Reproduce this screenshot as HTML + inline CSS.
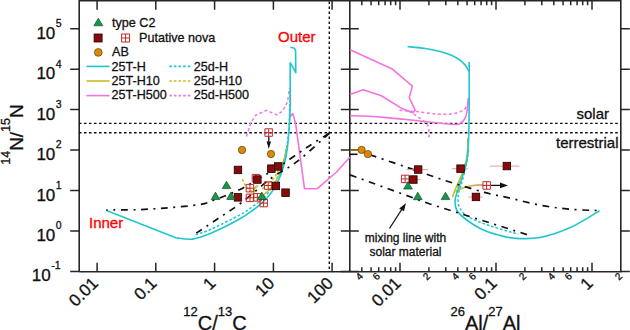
<!DOCTYPE html>
<html><head><meta charset="utf-8"><style>html,body{margin:0;padding:0;background:#fff;width:630px;height:330px;overflow:hidden}svg{display:block}text{font-family:"Liberation Sans",sans-serif;stroke:#111;stroke-width:0.3px}text.r{stroke:#f00}</style></head>
<body><svg width="630" height="330" viewBox="0 0 630 330" fill="#111">
<path d="M79.2 271.7V0.7H620.8V271.7H79.2M349.8 0.7V271.7" fill="none" stroke="#262626" stroke-width="1.6"/>
<path d="M70.2 271.4H79.2M340.8 271.4H358.8M620.8 271.4H629.8M70.2 231.0H79.2M340.8 231.0H358.8M620.8 231.0H629.8M70.2 190.6H79.2M340.8 190.6H358.8M620.8 190.6H629.8M70.2 150.1H79.2M340.8 150.1H358.8M620.8 150.1H629.8M70.2 109.6H79.2M340.8 109.6H358.8M620.8 109.6H629.8M70.2 69.2H79.2M340.8 69.2H358.8M620.8 69.2H629.8M70.2 28.8H79.2M340.8 28.8H358.8M620.8 28.8H629.8M97.1 271.7v-9M97.1 0.7v9M155.8 271.7v-9M155.8 0.7v9M214.6 271.7v-9M214.6 0.7v9M273.4 271.7v-9M273.4 0.7v9M332.1 271.7v-9M332.1 0.7v9M361.8 271.7v-4.5M361.8 0.7v4.5M371.1 271.7v-4.5M371.1 0.7v4.5M378.7 271.7v-4.5M378.7 0.7v4.5M385.1 271.7v-4.5M385.1 0.7v4.5M390.7 271.7v-4.5M390.7 0.7v4.5M395.6 271.7v-4.5M395.6 0.7v4.5M400.0 271.7v-9M400.0 0.7v9M428.9 271.7v-4.5M428.9 0.7v4.5M445.8 271.7v-4.5M445.8 0.7v4.5M457.8 271.7v-4.5M457.8 0.7v4.5M467.1 271.7v-4.5M467.1 0.7v4.5M474.7 271.7v-4.5M474.7 0.7v4.5M481.1 271.7v-4.5M481.1 0.7v4.5M486.7 271.7v-4.5M486.7 0.7v4.5M491.6 271.7v-4.5M491.6 0.7v4.5M496.0 271.7v-9M496.0 0.7v9M524.9 271.7v-4.5M524.9 0.7v4.5M541.8 271.7v-4.5M541.8 0.7v4.5M553.8 271.7v-4.5M553.8 0.7v4.5M563.1 271.7v-4.5M563.1 0.7v4.5M570.7 271.7v-4.5M570.7 0.7v4.5M577.1 271.7v-4.5M577.1 0.7v4.5M582.7 271.7v-4.5M582.7 0.7v4.5M587.6 271.7v-4.5M587.6 0.7v4.5M592.0 271.7v-9M592.0 0.7v9" fill="none" stroke="#262626" stroke-width="1.5"/>
<text x="50.699999999999996" y="280.8" font-size="17" text-anchor="end" font-family="Liberation Sans, sans-serif">10</text>
<text x="51.199999999999996" y="268.9" font-size="10.5" font-family="Liberation Sans, sans-serif">-1</text>
<text x="55.3" y="241.2" font-size="17" text-anchor="end" font-family="Liberation Sans, sans-serif">10</text>
<text x="55.8" y="229.3" font-size="10.5" font-family="Liberation Sans, sans-serif">0</text>
<text x="55.3" y="200.8" font-size="17" text-anchor="end" font-family="Liberation Sans, sans-serif">10</text>
<text x="55.8" y="188.9" font-size="10.5" font-family="Liberation Sans, sans-serif">1</text>
<text x="55.3" y="160.3" font-size="17" text-anchor="end" font-family="Liberation Sans, sans-serif">10</text>
<text x="55.8" y="148.4" font-size="10.5" font-family="Liberation Sans, sans-serif">2</text>
<text x="55.3" y="119.8" font-size="17" text-anchor="end" font-family="Liberation Sans, sans-serif">10</text>
<text x="55.8" y="107.9" font-size="10.5" font-family="Liberation Sans, sans-serif">3</text>
<text x="55.3" y="79.4" font-size="17" text-anchor="end" font-family="Liberation Sans, sans-serif">10</text>
<text x="55.8" y="67.5" font-size="10.5" font-family="Liberation Sans, sans-serif">4</text>
<text x="55.3" y="39.0" font-size="17" text-anchor="end" font-family="Liberation Sans, sans-serif">10</text>
<text x="55.8" y="27.1" font-size="10.5" font-family="Liberation Sans, sans-serif">5</text>
<text transform="translate(99.1,284.2) rotate(-45)" font-size="17" text-anchor="end" font-family="Liberation Sans, sans-serif">0.01</text>
<text transform="translate(157.8,284.2) rotate(-45)" font-size="17" text-anchor="end" font-family="Liberation Sans, sans-serif">0.1</text>
<text transform="translate(216.6,284.2) rotate(-45)" font-size="17" text-anchor="end" font-family="Liberation Sans, sans-serif">1</text>
<text transform="translate(275.4,284.2) rotate(-45)" font-size="17" text-anchor="end" font-family="Liberation Sans, sans-serif">10</text>
<text transform="translate(334.1,284.2) rotate(-45)" font-size="17" text-anchor="end" font-family="Liberation Sans, sans-serif">100</text>
<text transform="translate(402.0,284.2) rotate(-45)" font-size="17" text-anchor="end" font-family="Liberation Sans, sans-serif">0.01</text>
<text transform="translate(498.0,284.2) rotate(-45)" font-size="17" text-anchor="end" font-family="Liberation Sans, sans-serif">0.1</text>
<text transform="translate(594.0,284.2) rotate(-45)" font-size="17" text-anchor="end" font-family="Liberation Sans, sans-serif">1</text>
<text transform="translate(363.8,276.7) rotate(-45)" font-size="10" text-anchor="end" font-family="Liberation Sans, sans-serif">4</text>
<text transform="translate(380.7,276.7) rotate(-45)" font-size="10" text-anchor="end" font-family="Liberation Sans, sans-serif">6</text>
<text transform="translate(430.9,276.7) rotate(-45)" font-size="10" text-anchor="end" font-family="Liberation Sans, sans-serif">2</text>
<text transform="translate(459.8,276.7) rotate(-45)" font-size="10" text-anchor="end" font-family="Liberation Sans, sans-serif">4</text>
<text transform="translate(476.7,276.7) rotate(-45)" font-size="10" text-anchor="end" font-family="Liberation Sans, sans-serif">6</text>
<text transform="translate(526.9,276.7) rotate(-45)" font-size="10" text-anchor="end" font-family="Liberation Sans, sans-serif">2</text>
<text transform="translate(555.8,276.7) rotate(-45)" font-size="10" text-anchor="end" font-family="Liberation Sans, sans-serif">4</text>
<text transform="translate(572.7,276.7) rotate(-45)" font-size="10" text-anchor="end" font-family="Liberation Sans, sans-serif">6</text>
<text transform="translate(622.9,276.7) rotate(-45)" font-size="10" text-anchor="end" font-family="Liberation Sans, sans-serif">2</text>
<text x="215" y="330.2" font-size="20" text-anchor="middle" font-family="Liberation Sans, sans-serif"><tspan font-size="13" dy="-13.9">12</tspan><tspan dy="13.9">C/</tspan><tspan font-size="13" dy="-13.9">13</tspan><tspan dy="13.9">C</tspan></text>
<text x="485.5" y="330.2" font-size="20" text-anchor="middle" font-family="Liberation Sans, sans-serif"><tspan font-size="13" dy="-14">26</tspan><tspan dy="14">Al/</tspan><tspan font-size="13" dy="-14">27</tspan><tspan dy="14">Al</tspan></text>
<text transform="translate(23.3,134.5) rotate(-90)" font-size="19" text-anchor="middle" font-family="Liberation Sans, sans-serif"><tspan font-size="12.5" dy="-13">14</tspan><tspan dy="13">N/</tspan><tspan font-size="12.5" dy="-13">15</tspan><tspan dy="13">N</tspan></text>
<path d="M79.2 123.4H620.8M79.2 132.8H620.8" stroke="#111" stroke-width="1.4" stroke-dasharray="2.6 2.412" stroke-dashoffset="0.31" fill="none"/>
<path d="M329.3 0.7V271.7" stroke="#111" stroke-width="1.4" stroke-dasharray="2.6 2.4" stroke-dashoffset="4.2" fill="none"/>
<text x="609" y="119" font-size="15" text-anchor="end" font-family="Liberation Sans, sans-serif">solar</text>
<text x="618.5" y="147.5" font-size="15" text-anchor="end" font-family="Liberation Sans, sans-serif">terrestrial</text>
<text class="r" x="278" y="42" font-size="15" fill="#ff0000" font-family="Liberation Sans, sans-serif">Outer</text>
<text class="r" x="89" y="228.3" font-size="15" fill="#ff0000" font-family="Liberation Sans, sans-serif">Inner</text>
<text x="405.5" y="242" font-size="12" text-anchor="middle" font-family="Liberation Sans, sans-serif">mixing line with</text>
<text x="405.5" y="256" font-size="12" text-anchor="middle" font-family="Liberation Sans, sans-serif">solar material</text>
<path d="M98.3 18.2L102.8 25.8H93.8Z" fill="#15984a" stroke="#0a3a1a" stroke-width="0.6"/>
<text x="112" y="26.7" font-size="12.6" font-family="Liberation Sans, sans-serif">type C2</text>
<rect x="94.1" y="34.0" width="8" height="8" fill="#8a0a0a" stroke="#1a0000" stroke-width="0.8"/>
<path d="M121.6 34.0h8v8h-8zM125.6 34.0v8M121.6 38.0h8" fill="none" stroke="#c0282a" stroke-width="1"/>
<text x="139" y="41.7" font-size="12.6" font-family="Liberation Sans, sans-serif">Putative nova</text>
<circle cx="98.3" cy="52.4" r="3.9" fill="#d98a0c" stroke="#503000" stroke-width="0.6"/>
<text x="112" y="56.2" font-size="12.6" font-family="Liberation Sans, sans-serif">AB</text>
<path d="M86.4 66.4H109.5" stroke="#1fc6d0" stroke-width="1.6"/>
<path d="M169.3 66.4H191.7" stroke="#1fc6d0" stroke-width="1.6" stroke-dasharray="2.6 2"/>
<text x="111.5" y="70.6" font-size="12.6" font-family="Liberation Sans, sans-serif">25T-H</text>
<text x="193.8" y="70.6" font-size="12.6" font-family="Liberation Sans, sans-serif">25d-H</text>
<path d="M86.4 81.0H109.5" stroke="#c8bf1e" stroke-width="1.6"/>
<path d="M169.3 81.0H191.7" stroke="#c8bf1e" stroke-width="1.6" stroke-dasharray="2.6 2"/>
<text x="111.5" y="84.8" font-size="12.6" font-family="Liberation Sans, sans-serif">25T-H10</text>
<text x="193.8" y="84.8" font-size="12.6" font-family="Liberation Sans, sans-serif">25d-H10</text>
<path d="M86.4 95.6H109.5" stroke="#f373e3" stroke-width="1.6"/>
<path d="M169.3 95.6H191.7" stroke="#f373e3" stroke-width="1.6" stroke-dasharray="2.6 2"/>
<text x="111.5" y="98.9" font-size="12.6" font-family="Liberation Sans, sans-serif">25T-H500</text>
<text x="193.8" y="98.9" font-size="12.6" font-family="Liberation Sans, sans-serif">25d-H500</text>
<path d="M289.0 118.2L292.7 113.6L295.5 122.7L304.5 188.7L317.3 188.7L336.5 172.0L349.8 157.3" fill="none" stroke="#f373e3" stroke-width="1.6" stroke-linejoin="round"/>
<path d="M246.4 136.4L250.9 122.5L256.0 115.0L266.4 110.4L277.3 115.0L282.7 111.0L287.5 102.0L289.5 88.0" fill="none" stroke="#f373e3" stroke-width="1.5" stroke-dasharray="3 2.5" stroke-linejoin="round"/>
<path d="M195.6 234.7C198.2 233.8 204.0 232.4 211.4 229.1C218.8 225.8 233.2 218.5 240.0 214.8C246.8 211.1 248.7 209.3 252.0 207.0C255.3 204.7 257.5 203.2 260.0 201.0C262.5 198.8 264.8 196.6 267.0 194.0C269.2 191.4 271.2 188.5 273.0 185.5C274.8 182.5 276.4 179.4 278.0 176.0C279.6 172.6 281.2 169.0 282.5 165.0C283.8 161.0 284.9 156.2 285.8 152.0C286.7 147.8 287.2 145.3 287.8 140.0C288.4 134.7 288.9 128.3 289.3 120.0C289.7 111.7 289.9 95.0 290.0 90.0" fill="none" stroke="#1fc6d0" stroke-width="1.5" stroke-dasharray="2.6 2" stroke-linejoin="round"/>
<path d="M253.2 201.0C253.4 199.0 253.7 191.6 254.5 189.0C255.3 186.4 257.4 186.1 258.0 185.5" fill="none" stroke="#c8bf1e" stroke-width="1.5" stroke-linejoin="round"/>
<path d="M262.5 196.0C263.4 195.2 266.1 193.0 268.0 191.0C269.9 189.0 272.1 186.7 274.0 184.0C275.9 181.3 277.8 177.8 279.2 175.0C280.6 172.2 281.5 169.8 282.5 167.0C283.5 164.2 284.3 160.8 285.0 158.0C285.7 155.2 286.2 151.3 286.5 150.0" fill="none" stroke="#c8bf1e" stroke-width="1.5" stroke-linejoin="round"/>
<path d="M242.3 179.1C242.8 180.0 243.7 182.7 245.0 184.5C246.3 186.3 248.6 188.8 250.0 190.0C251.4 191.2 252.7 191.7 253.2 192.0" fill="none" stroke="#c8bf1e" stroke-width="1.5" stroke-dasharray="2.6 2" stroke-linejoin="round"/>
<path d="M262.0 189.0C262.9 188.2 265.7 186.3 267.7 184.5C269.7 182.7 272.2 180.4 274.0 178.0C275.8 175.6 276.9 173.2 278.6 170.0C280.3 166.8 282.9 162.4 284.1 159.1C285.3 155.8 285.5 152.3 285.9 150.0C286.3 147.7 286.4 145.8 286.5 145.0" fill="none" stroke="#c8bf1e" stroke-width="1.5" stroke-dasharray="2.6 2" stroke-linejoin="round"/>
<path d="M106.5 210.5L176.5 237.9" fill="none" stroke="#1fc6d0" stroke-width="1.6" stroke-linejoin="round"/>
<path d="M176.5 237.9C179.2 238.1 186.6 239.9 192.4 239.1C198.2 238.3 203.5 236.5 211.4 233.1C219.3 229.7 233.0 222.7 240.0 218.8C247.0 215.0 249.6 212.6 253.2 210.0C256.8 207.4 259.1 205.4 261.7 203.1C264.2 200.8 266.3 198.9 268.5 196.3C270.7 193.7 272.9 190.5 274.7 187.4C276.5 184.3 278.1 181.2 279.5 178.0C280.9 174.8 281.9 171.8 283.0 168.0C284.1 164.2 285.4 159.7 286.3 155.0C287.2 150.3 287.6 146.9 288.2 140.0C288.8 133.1 289.7 121.9 290.0 113.6C290.3 105.3 290.2 93.9 290.2 90.0" fill="none" stroke="#1fc6d0" stroke-width="1.6" stroke-linejoin="round"/>
<path d="M290.2 90.0L290.2 62.7L295.8 72.7L295.6 51.0L294.5 48.2L290.4 47.3" fill="none" stroke="#1fc6d0" stroke-width="1.6" stroke-linejoin="round"/>
<path d="M106.2 210.0C111.8 209.9 129.4 210.0 140.0 209.6C150.6 209.2 160.0 208.4 170.0 207.6C180.0 206.8 192.5 205.8 200.0 204.5C207.5 203.2 208.3 202.2 215.0 199.7C221.7 197.2 232.2 193.3 240.0 189.5C247.8 185.7 254.9 181.0 262.0 176.8C269.1 172.6 275.3 168.9 282.7 164.1C290.1 159.2 298.5 152.9 306.4 147.7C314.3 142.5 326.1 135.2 330.0 132.7" fill="none" stroke="#111" stroke-width="1.7" stroke-dasharray="6.8 5.6 2 5.6" stroke-dashoffset="5.2" stroke-linejoin="round"/>
<path d="M196.3 233.1C199.6 230.9 208.4 225.1 215.9 220.0C223.4 214.9 232.1 209.8 241.4 202.7C250.7 195.6 262.5 184.6 271.8 177.7C281.1 170.8 287.6 168.9 297.3 161.4C307.0 153.9 324.6 137.5 330.0 132.7" fill="none" stroke="#111" stroke-width="1.7" stroke-dasharray="6.8 5.6 2 5.6" stroke-dashoffset="0" stroke-linejoin="round"/>
<path d="M350.0 49.7L392.3 69.1L412.4 86.1L409.2 97.7L415.3 110.3L412.9 112.7" fill="none" stroke="#f373e3" stroke-width="1.6" stroke-linejoin="round"/>
<path d="M350.0 94.5L363.2 89.7L381.4 95.8L400.8 107.9L412.9 112.7" fill="none" stroke="#f373e3" stroke-width="1.6" stroke-linejoin="round"/>
<path d="M350.0 115.6C355.2 115.8 368.5 116.1 381.4 117.1C394.3 118.1 415.4 120.6 427.3 121.8C439.2 123.0 447.2 124.2 452.7 124.5C458.1 124.8 457.9 124.8 460.0 123.6C462.1 122.4 464.2 120.2 465.5 117.3C466.8 114.4 467.2 109.5 467.6 106.4C468.1 103.4 468.1 100.2 468.2 99.0" fill="none" stroke="#f373e3" stroke-width="1.6" stroke-linejoin="round"/>
<path d="M399.5 110.3C402.6 110.5 412.1 111.2 418.2 111.8C424.3 112.4 430.9 113.6 436.4 114.0C441.8 114.4 446.7 114.5 450.9 114.0C455.1 113.5 459.1 112.3 461.8 110.9C464.5 109.5 466.2 107.7 467.3 105.5C468.4 103.3 468.1 99.2 468.2 98.0" fill="none" stroke="#f373e3" stroke-width="1.5" stroke-dasharray="3 2.5" stroke-linejoin="round"/>
<path d="M409.1 110.9C411.5 112.6 420.4 118.3 423.6 120.9C426.8 123.5 427.3 123.7 428.2 126.4C429.1 129.1 429.0 135.5 429.1 137.3" fill="none" stroke="#f373e3" stroke-width="1.5" stroke-dasharray="3 2.5" stroke-linejoin="round"/>
<path d="M467.9 138.0C467.8 140.0 467.9 146.3 467.6 150.0C467.4 153.7 467.4 155.8 466.4 160.0C465.4 164.2 463.3 170.2 461.5 175.0C459.7 179.8 457.0 185.3 455.5 189.0C454.0 192.7 453.0 195.7 452.5 197.0" fill="none" stroke="#c8bf1e" stroke-width="1.6" stroke-linejoin="round"/>
<path d="M468.3 150.0C468.1 151.7 467.7 156.3 466.8 160.0C465.9 163.7 464.4 168.0 463.0 172.0C461.6 176.0 459.8 180.3 458.5 184.0C457.2 187.7 456.0 192.3 455.5 194.0" fill="none" stroke="#c8bf1e" stroke-width="1.5" stroke-dasharray="2.6 2" stroke-linejoin="round"/>
<path d="M456.0 192.0C457.0 191.4 459.8 189.2 462.0 188.3C464.2 187.4 466.5 186.9 469.0 186.3C471.5 185.8 474.7 185.2 477.0 185.0C479.3 184.8 481.8 184.8 482.8 184.8" fill="none" stroke="#c8bf1e" stroke-width="1.6" stroke-linejoin="round"/>
<path d="M407.5 46.5C410.2 46.8 418.6 47.5 424.0 48.3C429.4 49.1 435.3 50.3 440.0 51.5C444.7 52.7 448.7 54.0 452.0 55.5C455.3 57.0 457.8 58.5 460.0 60.2C462.2 61.9 464.0 63.6 465.5 65.5C467.0 67.4 468.6 70.8 469.2 71.8" fill="none" stroke="#1fc6d0" stroke-width="1.6" stroke-linejoin="round"/>
<path d="M469.2 62.0C469.2 68.3 469.3 87.0 469.2 100.0C469.1 113.0 469.0 129.8 468.6 140.0C468.2 150.2 467.8 155.2 466.8 161.2C465.8 167.2 464.0 171.5 462.6 176.1C461.2 180.7 459.6 184.9 458.4 188.8C457.2 192.7 455.5 195.9 455.2 199.4C454.9 202.9 454.8 206.6 456.7 210.0C458.6 213.4 462.5 216.8 466.7 220.0C470.9 223.2 476.4 226.7 481.7 229.2C487.0 231.7 492.8 233.5 498.3 235.0C503.9 236.5 508.1 237.9 515.0 238.3C522.0 238.7 530.7 239.3 540.0 237.5C549.3 235.7 560.9 231.8 570.9 227.3C580.9 222.8 594.9 213.4 599.7 210.6" fill="none" stroke="#1fc6d0" stroke-width="1.6" stroke-linejoin="round"/>
<path d="M468.5 150.0C467.9 153.3 466.2 164.2 465.0 170.0C463.8 175.8 462.1 180.8 461.0 185.0C459.9 189.2 458.6 191.4 458.3 195.0C458.0 198.6 457.5 203.1 459.2 206.7C460.9 210.3 463.2 213.5 468.3 216.7C473.4 219.9 481.7 222.9 490.0 225.8C498.3 228.7 513.6 232.8 518.3 234.2" fill="none" stroke="#1fc6d0" stroke-width="1.5" stroke-dasharray="2.6 2" stroke-linejoin="round"/>
<path d="M367.9 154.1C374.2 156.2 393.0 162.6 406.0 167.0C419.0 171.4 432.6 176.5 445.7 180.7C458.8 184.9 473.6 189.4 484.5 192.4C495.4 195.4 502.0 196.2 511.4 198.4C520.8 200.6 530.8 203.5 540.6 205.3C550.4 207.1 560.1 208.3 570.0 209.2C579.9 210.1 594.8 210.4 599.7 210.6" fill="none" stroke="#111" stroke-width="1.7" stroke-dasharray="6.8 5.6 2 5.6" stroke-dashoffset="-2.2" stroke-linejoin="round"/>
<path d="M350.0 174.9L430.0 204.0L528.3 235.0" fill="none" stroke="#111" stroke-width="1.7" stroke-dasharray="6.8 5.6 2 5.6" stroke-linejoin="round"/>
<path d="M406.6 169.6H428.2" stroke="#e89494" stroke-width="0.9"/>
<path d="M408 179.6H420.4" stroke="#e89494" stroke-width="0.9"/>
<path d="M452 168.7H468" stroke="#e89494" stroke-width="0.9"/>
<path d="M489.8 166.1H519.4" stroke="#e89494" stroke-width="0.9"/>
<path d="M468.3 197H482.5" stroke="#e89494" stroke-width="0.9"/>
<path d="M472 185.4H492" stroke="#e89494" stroke-width="0.9"/>
<path d="M350 150.3H360" stroke="#b87008" stroke-width="1.4"/><path d="M350 154.3H357.5" stroke="#111" stroke-width="1.6"/>
<path d="M268.8 136.5V142.5" stroke="#111" stroke-width="1.3"/><path d="M266.6 141.5L268.8 149L271 141.5Z" fill="#111"/>
<path d="M491 185.4H501" stroke="#111" stroke-width="1.3"/><path d="M500 182.6L508 185.4L500 188.2Z" fill="#111"/>
<path d="M389.5 228.5L402 209" stroke="#111" stroke-width="1.3"/><path d="M399.2 208.5L405.9 203.2L404 211.2Z" fill="#111"/>
<path d="M264.9 128.8h7.5v7.5h-7.5zM268.7 128.8v7.5M264.9 132.6h7.5" fill="none" stroke="#c0282a" stroke-width="1"/>
<path d="M252.2 174.4h7.5v7.5h-7.5zM256.0 174.4v7.5M252.2 178.2h7.5" fill="none" stroke="#c0282a" stroke-width="1"/>
<path d="M264.4 181.8h7.5v7.5h-7.5zM268.2 181.8v7.5M264.4 185.5h7.5" fill="none" stroke="#c0282a" stroke-width="1"/>
<path d="M246.2 184.4h7.5v7.5h-7.5zM250.0 184.4v7.5M246.2 188.2h7.5" fill="none" stroke="#c0282a" stroke-width="1"/>
<path d="M246.2 194.1h7.5v7.5h-7.5zM250.0 194.1v7.5M246.2 197.8h7.5" fill="none" stroke="#c0282a" stroke-width="1"/>
<path d="M253.6 193.6h7.5v7.5h-7.5zM257.3 193.6v7.5M253.6 197.3h7.5" fill="none" stroke="#c0282a" stroke-width="1"/>
<path d="M259.9 199.3h7.5v7.5h-7.5zM263.6 199.3v7.5M259.9 203.1h7.5" fill="none" stroke="#c0282a" stroke-width="1"/>
<path d="M401.4 175.2h7.5v7.5h-7.5zM405.1 175.2v7.5M401.4 178.9h7.5" fill="none" stroke="#c0282a" stroke-width="1"/>
<path d="M482.9 181.7h7.5v7.5h-7.5zM486.6 181.7v7.5M482.9 185.4h7.5" fill="none" stroke="#c0282a" stroke-width="1"/>
<rect x="234.2" y="166.2" width="7.5" height="7.5" fill="#8a0a0a" stroke="#1a0000" stroke-width="0.8"/>
<rect x="234.2" y="193.6" width="7.5" height="7.5" fill="#8a0a0a" stroke="#1a0000" stroke-width="0.8"/>
<rect x="253.6" y="175.8" width="7.5" height="7.5" fill="#8a0a0a" stroke="#1a0000" stroke-width="0.8"/>
<rect x="267.6" y="164.9" width="7.5" height="7.5" fill="#8a0a0a" stroke="#1a0000" stroke-width="0.8"/>
<rect x="274.4" y="162.7" width="7.5" height="7.5" fill="#8a0a0a" stroke="#1a0000" stroke-width="0.8"/>
<rect x="272.1" y="182.2" width="7.5" height="7.5" fill="#8a0a0a" stroke="#1a0000" stroke-width="0.8"/>
<rect x="281.8" y="188.9" width="7.5" height="7.5" fill="#8a0a0a" stroke="#1a0000" stroke-width="0.8"/>
<rect x="414.4" y="165.8" width="7.5" height="7.5" fill="#8a0a0a" stroke="#1a0000" stroke-width="0.8"/>
<rect x="409.6" y="175.8" width="7.5" height="7.5" fill="#8a0a0a" stroke="#1a0000" stroke-width="0.8"/>
<rect x="456.8" y="164.9" width="7.5" height="7.5" fill="#8a0a0a" stroke="#1a0000" stroke-width="0.8"/>
<rect x="503.1" y="162.3" width="7.5" height="7.5" fill="#8a0a0a" stroke="#1a0000" stroke-width="0.8"/>
<rect x="472.2" y="193.2" width="7.5" height="7.5" fill="#8a0a0a" stroke="#1a0000" stroke-width="0.8"/>
<path d="M226.5 181.2L230.8 188.6H222.2Z" fill="#15984a" stroke="#0a3a1a" stroke-width="0.6"/>
<path d="M215.5 192.1L219.8 199.5H211.2Z" fill="#15984a" stroke="#0a3a1a" stroke-width="0.6"/>
<path d="M231.0 192.1L235.3 199.5H226.7Z" fill="#15984a" stroke="#0a3a1a" stroke-width="0.6"/>
<path d="M261.8 192.1L266.2 199.5H257.4Z" fill="#15984a" stroke="#0a3a1a" stroke-width="0.6"/>
<path d="M408.0 181.7L412.4 189.1H403.6Z" fill="#15984a" stroke="#0a3a1a" stroke-width="0.6"/>
<path d="M417.8 192.3L422.2 199.7H413.4Z" fill="#15984a" stroke="#0a3a1a" stroke-width="0.6"/>
<path d="M445.5 192.2L449.9 199.6H441.1Z" fill="#15984a" stroke="#0a3a1a" stroke-width="0.6"/>
<circle cx="242.0" cy="150.0" r="3.7" fill="#d98a0c" stroke="#503000" stroke-width="0.6"/>
<circle cx="271.0" cy="154.0" r="3.7" fill="#d98a0c" stroke="#503000" stroke-width="0.6"/>
<circle cx="361.6" cy="149.9" r="3.7" fill="#d98a0c" stroke="#503000" stroke-width="0.6"/>
<circle cx="367.9" cy="154.1" r="3.7" fill="#d98a0c" stroke="#503000" stroke-width="0.6"/>
</svg></body></html>
